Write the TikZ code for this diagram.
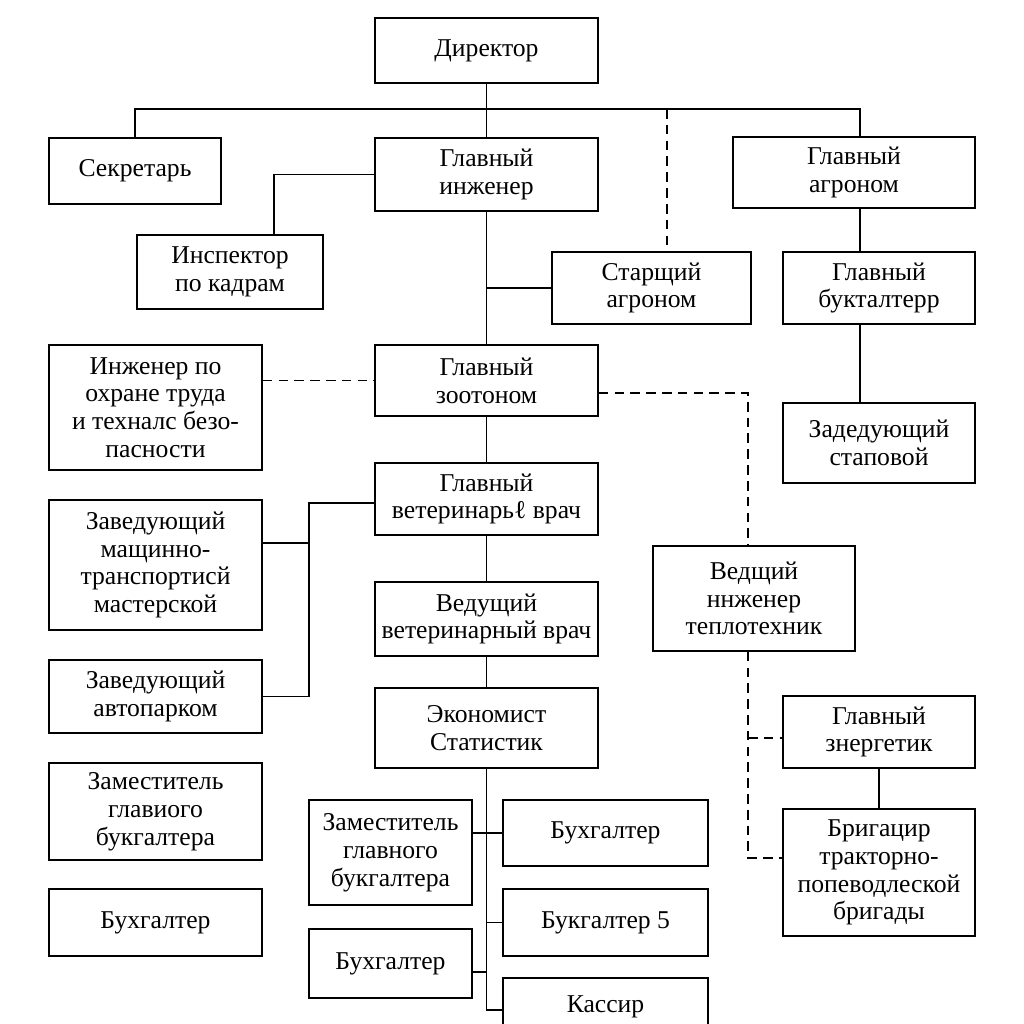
\documentclass[tikz,border=0pt]{standalone}
\usepackage{fontspec}
\setmainfont{Liberation Serif}

\begin{document}
\begin{tikzpicture}[x=0.02cm, y=-0.02cm, line width=0.6pt,
    box/.style={draw, line width=0.85pt, align=center, inner sep=1pt,
                font=\fontsize{14.6}{15.8}\selectfont},
    dashlink/.style={dash pattern=on 5.5pt off 3.5pt}]
  \clip (0,0) rectangle (1024,1024);
  % top level
  \node[box, minimum width=4.46cm, minimum height=1.30cm] (dir) at (486.5,50.5) {Директор};
  \node[box, minimum width=3.44cm, minimum height=1.32cm] (secr) at (135,171) {Секретарь};
  \node[box, minimum width=4.46cm, minimum height=1.46cm] (glinzh) at (486.5,174.5) {Главный\\инженер};
  \node[box, minimum width=4.84cm, minimum height=1.42cm] (glagr) at (854,172.5) {Главный\\агроном};
  % second row
  \node[box, minimum width=3.72cm, minimum height=1.48cm] (insp) at (230,272) {Инспектор\\по кадрам};
  \node[box, minimum width=3.98cm, minimum height=1.44cm] (stagr) at (651.5,288) {Старщий\\агроном};
  \node[box, minimum width=3.84cm, minimum height=1.44cm] (glbuh) at (879,288) {Главный\\букталтерр};
  % middle column
  \node[box, minimum width=4.46cm, minimum height=1.42cm] (zoot) at (486.5,380.5) {Главный\\зоотоном};
  \node[box, minimum width=4.46cm, minimum height=1.44cm] (vet) at (486.5,499) {Главный\\ветеринарьℓ врач};
  \node[box, minimum width=4.46cm, minimum height=1.48cm] (vedvet) at (486.5,619) {Ведущий\\ветеринарный врач};
  \node[box, minimum width=4.46cm, minimum height=1.60cm] (ekon) at (486.5,728) {Экономист\\Статистик};
  % left column
  \node[box, minimum width=4.26cm, minimum height=2.50cm] (ohr) at (155.5,407.5) {Инженер по\\охране труда\\и техналс безо-\\пасности};
  \node[box, minimum width=4.26cm, minimum height=2.60cm] (mast) at (155.5,565) {Заведующий\\мащинно-\\транспортисй\\мастерской};
  \node[box, minimum width=4.26cm, minimum height=1.46cm] (avto) at (155.5,696.5) {Заведующий\\автопарком};
  \node[box, minimum width=4.26cm, minimum height=1.94cm] (zamL) at (155.5,811.5) {Заместитель\\главиого\\букгалтера};
  \node[box, minimum width=4.26cm, minimum height=1.34cm] (buhL) at (155.5,922.5) {Бухгалтер};
  % right column
  \node[box, minimum width=3.84cm, minimum height=1.60cm] (stap) at (879,443) {Задедующий\\стаповой};
  \node[box, minimum width=4.04cm, minimum height=2.10cm] (teplo) at (754,598.5) {Ведщий\\ннженер\\теплотехник};
  \node[box, minimum width=3.84cm, minimum height=1.44cm] (energ) at (879,732) {Главный\\знергетик};
  \node[box, minimum width=3.84cm, minimum height=2.54cm] (brig) at (879,872.5) {Бригацир\\тракторно-\\попеводлеской\\бригады};
  % accounting
  \node[box, minimum width=3.26cm, minimum height=2.10cm] (zamR) at (390.5,852.5) {Заместитель\\главного\\букгалтера};
  \node[box, minimum width=3.26cm, minimum height=1.38cm] (buh2) at (390.5,963.5) {Бухгалтер};
  \node[box, minimum width=4.10cm, minimum height=1.32cm] (buh1) at (605.5,833) {Бухгалтер};
  \node[box, minimum width=4.10cm, minimum height=1.34cm] (buh5) at (605.5,922.5) {Букгалтер 5};
  \node[box, minimum width=4.10cm, minimum height=1.16cm] (kass) at (605.5,1007) {Кассир};

  % helper points for the off-centre lines
  \coordinate (bus) at (486.5,109);
  \coordinate (agrx) at (860,0);
  \coordinate (stx) at (667,0);
  \coordinate (inx) at (274,0);
  \coordinate (vx) at (309,503);
  \coordinate (mx) at (309,543);
  \coordinate (tx) at (748,393);
  \coordinate (ex) at (748,738);
  \coordinate (bx) at (748,858);
  \coordinate (b2) at (486.5,972);
  \coordinate (kx) at (486.5,1010);

  % solid links
  \draw (dir) -- (glinzh);
  \draw (secr.north) |- (bus) -| (glagr.north -| agrx);
  \draw (glagr.south -| agrx) -- (glbuh.north -| agrx);
  \draw (glbuh.south -| agrx) -- (stap.north -| agrx);
  \draw (glinzh.west) -| (insp.north -| inx);
  \draw (glinzh) -- (zoot);
  \draw (stagr.west) -- (stagr.west -| glinzh.south);
  \draw (zoot) -- (vet);
  \draw (vet) -- (vedvet);
  \draw (vedvet) -- (ekon);
  \draw (vet.west |- vx) -- (vx) |- (avto.east);
  \draw (mast.east |- mx) -- (mx);
  \draw (energ) -- (brig);
  \draw (ekon) -- (kx) -- (kass.west |- kx);
  \draw (zamR.east |- buh1.west) -- (buh1.west);
  \draw (kx |- buh5.west) -- (buh5.west);
  \draw (buh2.east |- b2) -- (b2);

  % dashed links
  \draw[dashlink] (bus -| stx) -- (stagr.north -| stx);
  \draw[dashlink] (ohr.east |- zoot.west) -- (zoot.west);
  \draw[dashlink] (zoot.east |- tx) -- (tx) -- (teplo.north -| tx);
  \draw[dashlink] (teplo.south -| ex) -- (bx) -- (brig.west |- bx);
  \draw[dashlink] (ex) -- (energ.west |- ex);
\end{tikzpicture}
\end{document}
